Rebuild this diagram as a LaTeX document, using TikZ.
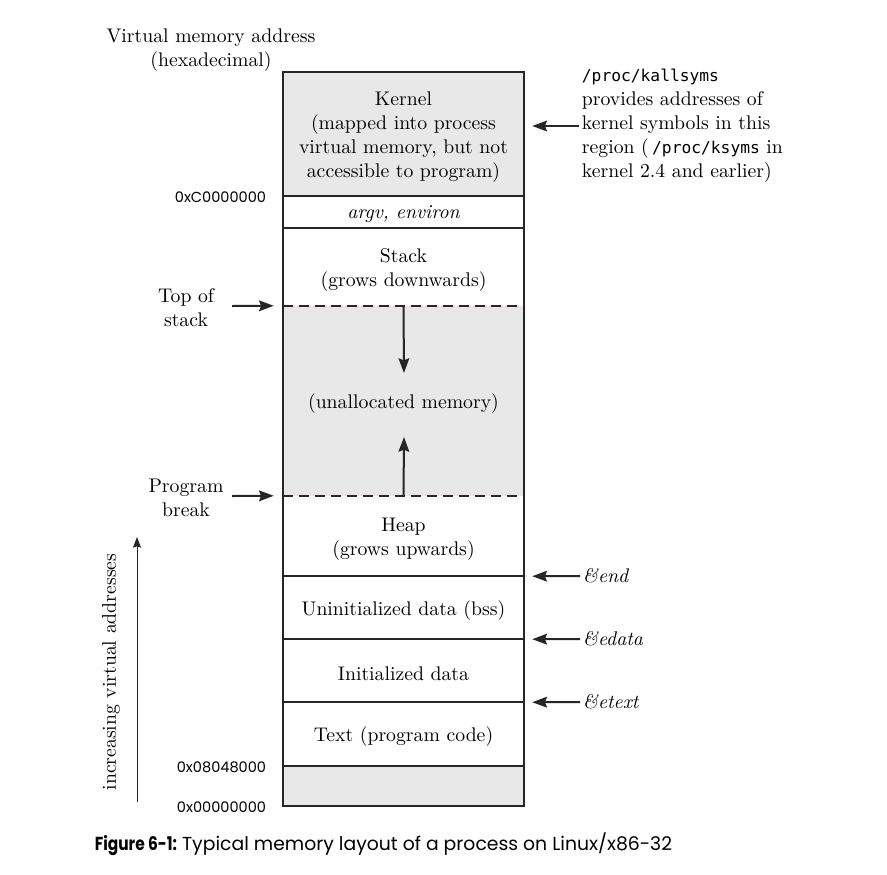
\documentclass[tikz,border=0pt]{standalone}
\usepackage{fontspec}
\setmainfont{lmroman10-regular.otf}[ItalicFont=lmroman10-italic.otf]
\newfontfamily\capfont{Poppins}
\setmonofont{DejaVu Sans Mono}
\usetikzlibrary{arrows.meta,calc}
\definecolor{memgray}{RGB}{232,232,232}
\definecolor{dashcol}{RGB}{60,30,35}
\newcommand{\serifsz}{\fontsize{14.8}{18}\selectfont}
\newcommand{\monosz}{\fontsize{12.2}{18}\selectfont\ttfamily}
\begin{document}
\begin{tikzpicture}[x=0.75pt,y=-0.75pt,
  region/.style={inner sep=0pt, minimum width=241*0.75pt},
  rtext/.style={font=\serifsz, align=center, inner sep=0pt, yshift=-2.25pt},
  boxline/.style={line width=1.5pt, black!85},
  dashline/.style={line width=1.5pt, dashcol, dash pattern=on 7.5pt off 4.5pt},
  harrow/.style={line width=1.5pt, black!85, -{Stealth[length=11pt,width=8pt,inset=1.5pt]}},
  thinarrow/.style={line width=0.75pt, black!85, -{Stealth[length=8pt,width=6pt,inset=1pt]}},
  lbl/.style={font=\serifsz, align=center, inner sep=2pt},
  hexlbl/.style={font=\capfont\fontsize{10.9}{14}\selectfont, anchor=east, inner sep=2pt},
]
\useasboundingbox (0,0) rectangle (887,874);
\fill[white] (0,0) rectangle (887,874);

% regions
\node[region, fill=memgray, minimum height=124*0.75pt] (kernel) at (403.5,134) {};
\node[region, minimum height=32*0.75pt] (argv) at (403.5,212) {};
\node[region, minimum height=78*0.75pt] (stack) at (403.5,267) {};
\node[region, fill=memgray, minimum height=190*0.75pt] (unalloc) at (403.5,401) {};
\node[region, minimum height=80*0.75pt] (heap) at (403.5,536) {};
\node[region, minimum height=63*0.75pt] (bss) at (403.5,607.5) {};
\node[region, minimum height=63*0.75pt] (init) at (403.5,670.5) {};
\node[region, minimum height=64*0.75pt] (text) at (403.5,734) {};
\node[region, fill=memgray, minimum height=40*0.75pt] (bottom) at (403.5,786) {};

% region texts
\node[rtext] (kernelt) at (kernel.center) {Kernel\\(mapped into process\\virtual memory, but not\\accessible to program)};
\node[rtext, yshift=0.75pt] (argvt) at (argv.center) {\itshape argv, environ};
\node[rtext] (stackt) at (stack.center) {Stack\\(grows downwards)};
\node[rtext] (unalloct) at (unalloc.center) {(unallocated memory)};
\node[rtext] (heapt) at (heap.center) {Heap\\(grows upwards)};
\node[rtext] (bsst) at (bss.center) {Uninitialized data (bss)};
\node[rtext] (initt) at (init.center) {Initialized data};
\node[rtext] (textt) at (text.center) {Text (program code)};

% outline and dividers
\draw[boxline] (kernel.north west) rectangle (bottom.south east);
\draw[boxline] (kernel.south west) -- (kernel.south east);
\draw[boxline] (argv.south west) -- (argv.south east);
\draw[dashline] (stack.south west) -- (stack.south east);
\draw[dashline] (heap.north west) -- (heap.north east);
\draw[boxline] (heap.south west) -- (heap.south east);
\draw[boxline] (bss.south west) -- (bss.south east);
\draw[boxline] (init.south west) -- (init.south east);
\draw[boxline] (text.south west) -- (text.south east);

% growth arrows
\coordinate (downtip) at (404,373);
\coordinate (uptip) at (404,437);
\draw[harrow] (unalloc.north) -- (downtip);
\draw[harrow] (unalloc.south) -- (uptip);

% title
\node[lbl] (title) at (211,50) {Virtual memory address\\(hexadecimal)};

% hex labels
\node[hexlbl] (hexC) at (269,197) {0xC0000000};
\node[hexlbl] (hex8) at (269,767) {0x08048000};
\node[hexlbl] (hex0) at (269,807) {0x00000000};

% left labels
\node[lbl] (topstack) at (186,308) {Top of\\stack};
\node[lbl] (pbreak) at (186,498) {Program\\break};
\coordinate (tsfrom) at (232,306);
\coordinate (pbfrom) at (232,496);
\draw[harrow, shorten >=6.75pt] (tsfrom) -- (unalloc.north west);
\draw[harrow, shorten >=6.75pt] (pbfrom) -- (heap.north west);

% right labels
\node[lbl, align=left, anchor=west] (kallsyms) at (579,126) {{\monosz /proc/kallsyms}\\provides addresses of\\kernel symbols in this\\region (\,{\monosz /proc/ksyms} in\\kernel 2.4 and earlier)};
\draw[harrow, shorten >=6pt] (kallsyms.west) -- (kernel.east |- kallsyms.west);

\node[lbl, anchor=west] (endl) at (580,576) {\itshape\&end};
\node[lbl, anchor=west] (edatal) at (580,639) {\itshape\&edata};
\node[lbl, anchor=west] (etextl) at (580,702) {\itshape\&etext};
\draw[harrow, shorten >=6pt] (endl.west) -- (heap.south east);
\draw[harrow, shorten >=6pt] (edatal.west) -- (bss.south east);
\draw[harrow, shorten >=6pt] (etextl.west) -- (init.south east);

% increasing addresses
\node[lbl, rotate=90] (incr) at (111,672) {increasing virtual addresses};
\coordinate (vbot) at (137,802);
\coordinate (vtop) at (137,537);
\draw[thinarrow] (vbot) -- (vtop);

% caption
\node[font=\capfont\fontsize{14.1}{16}\selectfont, inner sep=0pt] (caption) at (383.5,844) {\scalebox{0.82}[1]{\bfseries Figure 6-1:} Typical memory layout of a process on Linux/x86-32};
\end{tikzpicture}
\end{document}
